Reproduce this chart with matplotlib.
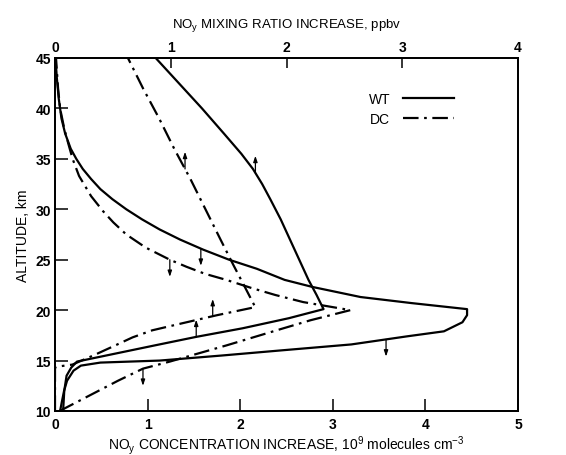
import numpy as np
import matplotlib
matplotlib.use("Agg")
import matplotlib.pyplot as plt
from matplotlib.lines import Line2D

plt.rcParams['font.family'] = ['Liberation Sans', 'DejaVu Sans']
plt.rcParams['mathtext.default'] = 'regular'

# NOy concentration increase, 10^9 molecules cm^-3 (bottom axis)
wt_conc_alt = [10, 11, 12, 13, 14, 14.5, 14.8, 15.0, 15.5, 16.0, 16.6, 17.4, 17.9, 18.8, 19.5, 20.1,
               20.3, 20.7, 21.3, 22.3, 23.0, 24.1, 25, 26, 27, 28, 29, 30, 31, 32, 33, 34, 35, 36,
               37.5, 39, 41, 43, 45]
wt_conc = [0.055, 0.076, 0.098, 0.13, 0.2, 0.28, 0.49, 1.13, 1.8, 2.43, 3.2, 3.8, 4.2, 4.4, 4.45, 4.45,
           4.25, 3.85, 3.3, 2.78, 2.48, 2.18, 1.88, 1.60, 1.35, 1.13, 0.94, 0.77, 0.62, 0.49, 0.39,
           0.30, 0.23, 0.17, 0.11, 0.07, 0.04, 0.02, 0.005]

dc_conc_alt = [10, 11, 12, 13, 14.2, 14.9, 16.5, 18.1, 19.0, 20.0, 20.8, 21.5, 22.2, 23.0, 23.6,
               24.3, 25.0, 26.2, 27.5, 28.7, 29.8, 31.3, 33.3, 35.0, 36.3, 38.0, 40.0, 42.0, 45.0]
dc_conc = [0.05, 0.26, 0.47, 0.68, 0.95, 1.24, 1.85, 2.43, 2.76, 3.19, 2.68, 2.38, 2.12, 1.85, 1.62,
           1.42, 1.24, 0.98, 0.77, 0.63, 0.52, 0.39, 0.26, 0.19, 0.15, 0.10, 0.055, 0.033, 0.011]

# NOy mixing ratio increase, ppbv (top axis)
wt_mix_alt = [10, 12, 13.5, 14.3, 14.9, 16.5, 17.35, 18.2, 19.2, 20.1, 21.5, 23, 25, 27, 29,
              31, 32.5, 34, 35.5, 37.5, 40, 42.5, 45.0]
wt_mix = [0.07, 0.08, 0.10, 0.14, 0.19, 0.86, 1.22, 1.62, 2.02, 2.32, 2.26, 2.19, 2.11, 2.03, 1.95,
          1.86, 1.79, 1.71, 1.61, 1.46, 1.27, 1.07, 0.87]

dc_mix_alt = [10, 14.3, 14.4, 14.6, 15.5, 16.5, 17.3, 18.0, 18.7, 19.5, 20.3, 22.3, 24.5, 27, 30,
              33, 36, 39, 42, 45.0]
dc_mix = [0.0, 0.0, 0.02, 0.15, 0.33, 0.52, 0.67, 0.84, 1.10, 1.40, 1.73, 1.64, 1.54, 1.43, 1.30,
          1.17, 1.03, 0.90, 0.76, 0.63]

# little arrows telling which scale a curve belongs to: (curve, altitude, direction)
arrows = [("wt_mix", 33.6, 1), ("wt_mix", 17.35, 1),
          ("dc_mix", 34.0, 1), ("dc_mix", 19.4, 1),
          ("wt_conc", 26.1, -1), ("wt_conc", 17.1, -1),
          ("dc_conc", 25.0, -1), ("dc_conc", 14.2, -1)]

fig = plt.figure(figsize=(5.66, 4.56), dpi=100)
ax = fig.add_axes([55/566, 1-412/456, 463/566, 353/456])
ax2 = ax.twiny()

dashdot = (0, (7, 2.5, 1.2, 2.5))
lw = 1.6
ax.plot(wt_conc, wt_conc_alt, color='black', lw=lw)
ax.plot(dc_conc, dc_conc_alt, color='black', lw=lw, linestyle=dashdot)
ax2.plot(wt_mix, wt_mix_alt, color='black', lw=lw)
ax2.plot(dc_mix, dc_mix_alt, color='black', lw=lw, linestyle=dashdot)

curves = {"wt_conc": (ax, wt_conc_alt, wt_conc), "dc_conc": (ax, dc_conc_alt, dc_conc),
          "wt_mix": (ax2, wt_mix_alt, wt_mix), "dc_mix": (ax2, dc_mix_alt, dc_mix)}
for name, alt, d in arrows:
    a, alts, vals = curves[name]
    x = np.interp(alt, alts, vals)
    a.annotate("", xy=(x, alt + 1.7*d), xytext=(x, alt),
               arrowprops=dict(arrowstyle="-|>,head_length=0.35,head_width=0.12", color='black', lw=0.9,
                               shrinkA=0, shrinkB=0))

ax.set_xlim(0, 5)
ax.set_ylim(10, 45)
ax2.set_xlim(0, 4)
ax.set_xticks(range(0, 6))
ax.set_yticks(range(10, 46, 5))
ax2.set_xticks(range(0, 5))

ax.tick_params(axis='x', direction='in', length=8.5, width=1.1, labelsize=10, pad=4)
ax.tick_params(axis='y', direction='in', length=9, width=1.1, labelsize=10, pad=3)
ax2.tick_params(axis='x', direction='in', length=7, width=1.1, labelsize=10, pad=3)
for lab in ax.get_xticklabels() + ax.get_yticklabels() + ax2.get_xticklabels():
    lab.set_fontweight('bold')
for a in (ax, ax2):
    for s in a.spines.values():
        s.set_linewidth(1.3)

ax.set_xlabel(r'NO$_y$ CONCENTRATION INCREASE, 10$^9$ molecules cm$^{-3}$', fontsize=10, labelpad=2)
ax2.set_xlabel(r'NO$_y$ MIXING RATIO INCREASE, ppbv', fontsize=9.5, labelpad=9)
ax.set_ylabel('ALTITUDE, km', fontsize=10, labelpad=4)

handles = [Line2D([], [], color='black', lw=lw),
           Line2D([], [], color='black', lw=lw, linestyle=dashdot)]
ax.legend(handles, ['WT', 'DC'], loc='upper left', bbox_to_anchor=(0.65, 0.94), frameon=False,
          markerfirst=False, handlelength=3.7, labelspacing=0.45, fontsize=10, handletextpad=0.9)

fig.savefig('out.png', dpi=100)
